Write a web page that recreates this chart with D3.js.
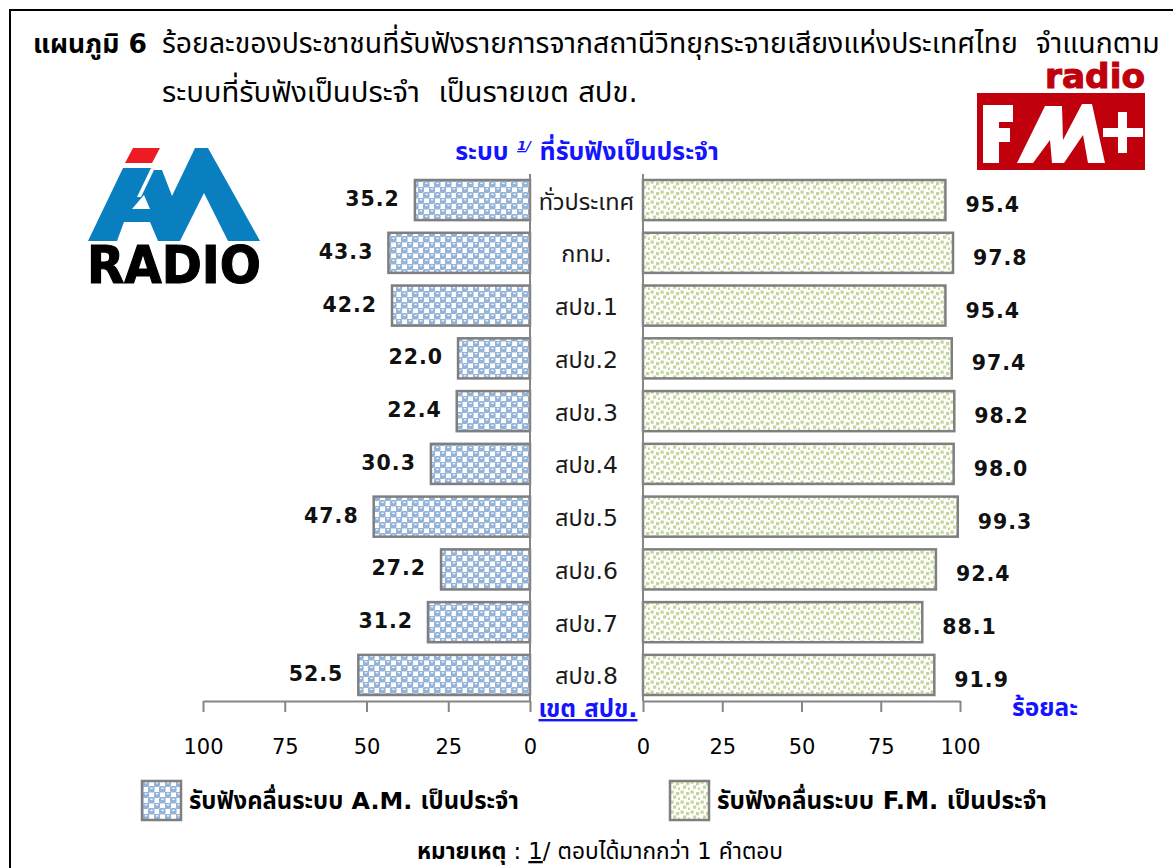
<!DOCTYPE html>
<html lang="th">
<head>
<meta charset="utf-8">
<title>แผนภูมิ 6</title>
<script src="https://cdn.jsdelivr.net/npm/d3@7"></script>
<style>
  html, body { margin: 0; padding: 0; background: #fff; }
  svg { display: block; }
  text { font-family: Tahoma, "DejaVu Sans", "Noto Sans Thai", sans-serif; }
</style>
</head>
<body>
<svg id="chart" width="1173" height="868"></svg>
<script>
// Regions (categories) and the share of listeners for each band
const categories = ["ทั่วประเทศ", "กทม.", "สปข.1", "สปข.2", "สปข.3", "สปข.4", "สปข.5", "สปข.6", "สปข.7", "สปข.8"];
const amValues = [35.2, 43.3, 42.2, 22.0, 22.4, 30.3, 47.8, 27.2, 31.2, 52.5];
const fmValues = [95.4, 97.8, 95.4, 97.4, 98.2, 98.0, 99.3, 92.4, 88.1, 91.9];
const amTicks = [100, 75, 50, 25, 0];
const fmTicks = [0, 25, 50, 75, 100];
const seriesNames = ["รับฟังคลื่นระบบ A.M. เป็นประจำ", "รับฟังคลื่นระบบ F.M. เป็นประจำ"];

const svg = d3.select("#chart");
const axisGrey = "#868686";
const barStroke = "#7f7f7f";
const blue = "#1414ff";

// scale a text's font size so that it spans the given width
function fit(sel, width) {
  const fs = parseFloat(sel.attr("font-size"));
  const len = sel.node().getComputedTextLength();
  if (len > 0) sel.attr("font-size", (fs * width / len).toFixed(2));
  return sel;
}

svg.append("rect").attr("width", 1173).attr("height", 868).attr("fill", "#fff");
// outer frame
svg.append("rect").attr("x", 10).attr("y", 10).attr("width", 1200).attr("height", 900)
  .attr("fill", "none").attr("stroke", "#000").attr("stroke-width", 2);

// fill patterns
const defs = svg.append("defs");
const pAm = defs.append("pattern").attr("id", "patAm").attr("patternUnits", "userSpaceOnUse")
  .attr("width", 11).attr("height", 11);
pAm.append("rect").attr("width", 11).attr("height", 11).attr("fill", "#fff");
[[0, 0], [5.5, 5.5], [-5.5, 5.5], [5.5, -5.5]].forEach(([x, y]) => {
  pAm.append("rect").attr("x", x - 0.6).attr("y", y - 0.6).attr("width", 6.7).attr("height", 6.7)
    .attr("rx", 2).attr("fill", "#95b3d7");
  pAm.append("rect").attr("x", x + 1.8).attr("y", y + 1.2).attr("width", 2.4).attr("height", 1.2).attr("fill", "#fff");
});
const pFm = defs.append("pattern").attr("id", "patFm").attr("patternUnits", "userSpaceOnUse")
  .attr("width", 10).attr("height", 10);
pFm.append("rect").attr("width", 10).attr("height", 10).attr("fill", "#fff");
[[0.5, 0.5], [6, 2], [3, 5.5], [8, 7.5]].forEach(([x, y]) => {
  pFm.append("rect").attr("x", x).attr("y", y).attr("width", 3.2).attr("height", 3.2).attr("fill", "#c3d69b");
});

// scales
const y = d3.scaleBand().domain(categories).range([174, 701]).paddingInner(0.24).paddingOuter(0.114);
const xAm = d3.scaleLinear().domain([0, 100]).range([530, 203]);
const xFm = d3.scaleLinear().domain([0, 100]).range([643, 960]);
const axisY = y.range()[1];

// bars
svg.append("g").selectAll("rect").data(categories).join("rect")
  .attr("x", (d, i) => xAm(amValues[i]))
  .attr("y", d => y(d))
  .attr("width", (d, i) => xAm(0) - xAm(amValues[i]))
  .attr("height", y.bandwidth())
  .attr("fill", "url(#patAm)").attr("stroke", barStroke).attr("stroke-width", 2.5);
svg.append("g").selectAll("rect").data(categories).join("rect")
  .attr("x", xFm(0))
  .attr("y", d => y(d))
  .attr("width", (d, i) => xFm(fmValues[i]) - xFm(0))
  .attr("height", y.bandwidth())
  .attr("fill", "url(#patFm)").attr("stroke", barStroke).attr("stroke-width", 2.5);

// category axis lines
[xAm(0), xFm(0)].forEach(x => {
  svg.append("line").attr("x1", x).attr("x2", x).attr("y1", y.range()[0]).attr("y2", axisY)
    .attr("stroke", axisGrey).attr("stroke-width", 2);
});

// value axes
function styleAxis(g) {
  g.select(".domain").attr("stroke", axisGrey).attr("stroke-width", 2);
  g.selectAll(".tick line").attr("stroke", axisGrey).attr("stroke-width", 2);
  g.selectAll(".tick text").attr("fill", "#000").attr("font-size", 21)
    .attr("font-family", "'DejaVu Sans', sans-serif");
}
svg.append("g").attr("transform", `translate(0,${axisY})`)
  .call(d3.axisBottom(xAm).tickValues(amTicks).tickSize(11).tickSizeOuter(0).tickPadding(27))
  .call(styleAxis);
svg.append("g").attr("transform", `translate(0,${axisY})`)
  .call(d3.axisBottom(xFm).tickValues(fmTicks).tickSize(11).tickSizeOuter(0).tickPadding(27))
  .call(styleAxis);

// category labels
const catLabels = svg.append("g").selectAll("text").data(categories).join("text")
  .attr("x", (xAm(0) + xFm(0)) / 2)
  .attr("y", d => y(d) + y.bandwidth() / 2 + 3)
  .attr("text-anchor", "middle").attr("dominant-baseline", "middle")
  .attr("font-size", 21).attr("fill", "#1a1a1a")
  .text(d => d);
const lastCat = catLabels.filter((d, i) => i === categories.length - 1);
fit(lastCat, 63);
catLabels.attr("font-size", lastCat.attr("font-size"));

// value labels
svg.append("g").selectAll("text").data(categories).join("text")
  .attr("x", (d, i) => xAm(amValues[i]) - 15)
  .attr("y", d => y(d) + y.bandwidth() / 2)
  .attr("text-anchor", "end").attr("dominant-baseline", "middle")
  .attr("font-family", "'DejaVu Sans', sans-serif").attr("letter-spacing", 1)
  .attr("font-size", 20.5).attr("font-weight", "bold").attr("fill", "#111")
  .text((d, i) => amValues[i].toFixed(1));
svg.append("g").selectAll("text").data(categories).join("text")
  .attr("x", (d, i) => xFm(fmValues[i]) + 20)
  .attr("y", d => y(d) + y.bandwidth() / 2 + 6)
  .attr("text-anchor", "start").attr("dominant-baseline", "middle")
  .attr("font-family", "'DejaVu Sans', sans-serif").attr("letter-spacing", 1)
  .attr("font-size", 20.5).attr("font-weight", "bold").attr("fill", "#111")
  .text((d, i) => fmValues[i].toFixed(1));

// title
fit(svg.append("text").attr("x", 33).attr("y", 53).attr("font-size", 25).attr("font-weight", "bold")
  .attr("fill", "#000").text("แผนภูมิ 6"), 114);
fit(svg.append("text").attr("x", 162).attr("y", 53).attr("font-size", 25).attr("fill", "#000")
  .attr("xml:space", "preserve")
  .text("ร้อยละของประชาชนที่รับฟังรายการจากสถานีวิทยุกระจายเสียงแห่งประเทศไทย  จำแนกตาม"), 998);
fit(svg.append("text").attr("x", 162).attr("y", 102).attr("font-size", 25).attr("fill", "#000")
  .attr("xml:space", "preserve")
  .text("ระบบที่รับฟังเป็นประจำ  เป็นรายเขต สปข."), 476);

// blue sub-heading above the bars
const sub = svg.append("text").attr("x", 587).attr("y", 160).attr("text-anchor", "middle")
  .attr("font-size", 23).attr("font-weight", "bold").attr("fill", blue).attr("xml:space", "preserve");
sub.append("tspan").text("ระบบ ");
sub.append("tspan").attr("font-size", 13).attr("dy", -10).attr("font-style", "italic")
  .attr("text-decoration", "underline").text("1");
sub.append("tspan").attr("font-size", 13).attr("font-style", "italic").text("/");
sub.append("tspan").attr("dy", 10).text(" ที่รับฟังเป็นประจำ");
fit(sub, 265);

// axis captions
fit(svg.append("text").attr("x", 588).attr("y", 717).attr("text-anchor", "middle")
  .attr("font-size", 21).attr("font-weight", "bold").attr("fill", blue)
  .attr("text-decoration", "underline").attr("xml:space", "preserve").text("เขต สปข."), 99);
fit(svg.append("text").attr("x", 1012).attr("y", 716)
  .attr("font-size", 21).attr("font-weight", "bold").attr("fill", blue).text("ร้อยละ"), 66);

// legend
const legend = [{ x: 142, fill: "url(#patAm)", label: seriesNames[0] },
                { x: 670, fill: "url(#patFm)", label: seriesNames[1] }];
legend.forEach(l => {
  svg.append("rect").attr("x", l.x).attr("y", 781).attr("width", 39).attr("height", 39)
    .attr("fill", l.fill).attr("stroke", barStroke).attr("stroke-width", 2.5);
  fit(svg.append("text").attr("x", l.x + 47).attr("y", 809).attr("font-size", 21)
    .attr("font-weight", "bold").attr("fill", "#000").text(l.label), 330);
});

// footnote
const note = svg.append("text").attr("x", 600).attr("y", 859).attr("text-anchor", "middle")
  .attr("font-size", 20).attr("fill", "#000").attr("xml:space", "preserve");
note.append("tspan").attr("font-weight", "bold").text("หมายเหตุ");
note.append("tspan").text(" : ");
note.append("tspan").attr("text-decoration", "underline").text("1");
note.append("tspan").text("/ ตอบได้มากกว่า 1 คำตอบ");
fit(note, 366);

// AM radio badge
const am = svg.append("g");
am.append("polygon").attr("points", "133,148 160,148 152,163 125,163").attr("fill", "#ed1c24");
am.append("polygon")
  .attr("points", "88,241 123,168 151,168 154,170 162,170 172,196 195,148 208,148 260,241 228,241 204,193 180,241 158,241 150,222 124,222 117,241")
  .attr("fill", "#0a7fc0");
am.append("polygon").attr("points", "151,168 154,170 141,197 137,197").attr("fill", "#fff");
am.append("polygon").attr("points", "132,209 150,209 144,195").attr("fill", "#fff");
am.append("text").attr("x", 87).attr("y", 283).attr("font-family", "'Liberation Sans', Arial, sans-serif")
  .attr("font-size", 52).attr("font-weight", "bold").attr("fill", "#000")
  .attr("stroke", "#000").attr("stroke-width", 1.2)
  .attr("textLength", 174).attr("lengthAdjust", "spacingAndGlyphs").text("RADIO");

// FM+ badge
const fm = svg.append("g");
fm.append("text").attr("x", 1045).attr("y", 88).attr("font-family", "'Liberation Sans', Arial, sans-serif")
  .attr("font-size", 33).attr("font-weight", "bold").attr("fill", "#c0000c")
  .attr("stroke", "#c0000c").attr("stroke-width", 1)
  .attr("textLength", 100).attr("lengthAdjust", "spacingAndGlyphs").text("radio");
fm.append("rect").attr("x", 977).attr("y", 93).attr("width", 168).attr("height", 77).attr("fill", "#c0000c");
fm.append("path").attr("d", "M983,105 H1013 V122 H999 V128 H1010 V142 H999 V163 H983 Z").attr("fill", "#fff");
fm.append("polygon")
  .attr("points", "1017,163 1045,106 1062,106 1063,140 1082,104 1092,104 1105,163 1088,163 1083,135 1064,163 1052,163 1050,140 1033,163")
  .attr("fill", "#fff");
fm.append("rect").attr("x", 1103).attr("y", 128).attr("width", 40).attr("height", 9).attr("fill", "#fff");
fm.append("rect").attr("x", 1118).attr("y", 112).attr("width", 9).attr("height", 41).attr("fill", "#fff");
</script>
</body>
</html>
